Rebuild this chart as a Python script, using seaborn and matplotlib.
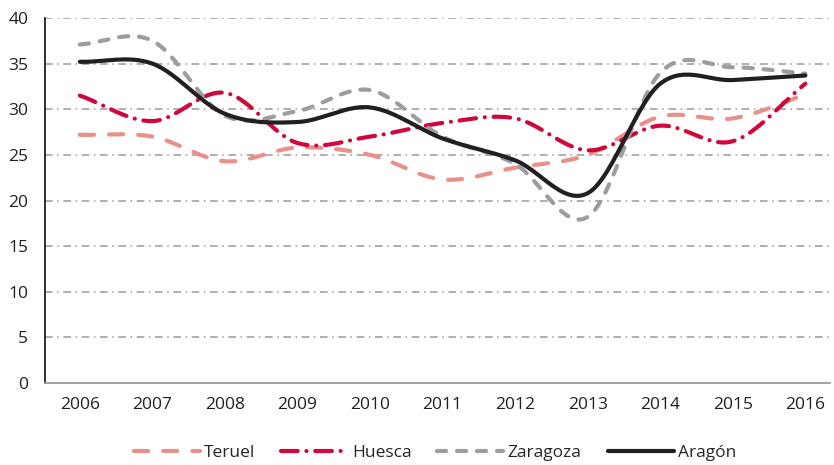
import numpy as np
import pandas as pd
import matplotlib
matplotlib.use("Agg")
import matplotlib.pyplot as plt
import seaborn as sns
from matplotlib.lines import Line2D

years = [2006, 2007, 2008, 2009, 2010, 2011, 2012, 2013, 2014, 2015, 2016]
teruel = [27.2, 27.0, 24.3, 25.8, 25.0, 22.3, 23.6, 25.0, 29.2, 29.0, 31.6]
huesca = [31.5, 28.7, 31.8, 26.3, 27.0, 28.5, 29.0, 25.5, 28.2, 26.5, 32.8]
zaragoza = [37.1, 37.5, 29.3, 29.8, 32.1, 27.0, 24.0, 18.2, 34.0, 34.6, 33.9]
aragon = [35.2, 35.0, 29.5, 28.6, 30.2, 26.8, 24.4, 20.8, 32.8, 33.2, 33.7]
series_names = ["Teruel", "Huesca", "Zaragoza", "Aragón"]
y_ticks = [0, 5, 10, 15, 20, 25, 30, 35, 40]

sns.set_theme(style="white")
plt.rcParams["font.family"] = ["Open Sans", "DejaVu Sans"]


def catmull_rom(x, y, n=30):
    x = np.asarray(x, float)
    y = np.asarray(y, float)
    px = np.concatenate([[2 * x[0] - x[1]], x, [2 * x[-1] - x[-2]]])
    py = np.concatenate([[2 * y[0] - y[1]], y, [2 * y[-1] - y[-2]]])
    xs, ys = [], []
    for i in range(1, len(px) - 2):
        t = np.linspace(0, 1, n, endpoint=(i == len(px) - 3))
        for P, out in ((px, xs), (py, ys)):
            p0, p1, p2, p3 = P[i - 1], P[i], P[i + 1], P[i + 2]
            out.append(0.5 * ((2 * p1) + (-p0 + p2) * t
                              + (2 * p0 - 5 * p1 + 4 * p2 - p3) * t ** 2
                              + (-p0 + 3 * p1 - 3 * p2 + p3) * t ** 3))
    return np.concatenate(xs), np.concatenate(ys)


frames = []
for name, vals in zip(series_names, [teruel, huesca, zaragoza, aragon]):
    sx, sy = catmull_rom(years, vals)
    frames.append(pd.DataFrame({"year": sx, "value": sy, "serie": name}))
df = pd.concat(frames, ignore_index=True)

colors = {"Teruel": "#E8918B", "Huesca": "#D0073D", "Zaragoza": "#9C9DA1", "Aragón": "#231F20"}
dashes = {"Teruel": (3.4, 3.6), "Huesca": (4.0, 2.1, 0.01, 2.1), "Zaragoza": (2.2, 2.6), "Aragón": ""}
LW = 3.0

fig = plt.figure(figsize=(8.34, 4.65), dpi=100)
ax = fig.add_axes([45 / 834, 1 - 383 / 465, (830 - 45) / 834, (383 - 18) / 465])

sns.lineplot(data=df, x="year", y="value", hue="serie", style="serie",
             palette=colors, dashes=dashes, linewidth=LW, sort=False,
             estimator=None, ax=ax, legend=False)
for line in ax.get_lines():
    line.set_dash_capstyle("round")
    line.set_solid_capstyle("round")

ax.set_xlim(2005.52, 2016.34)
ax.set_ylim(0, 40)
ax.set_xticks(years)
ax.set_xticklabels([str(y) for y in years], fontsize=12.5, color="#231F20")
ax.set_yticks(y_ticks)
ax.set_yticklabels([str(t) for t in y_ticks], fontsize=12.5, color="#231F20")
ax.tick_params(axis="x", length=0, pad=10)
ax.tick_params(axis="y", length=0, pad=12)
ax.set_xlabel("")
ax.set_ylabel("")
for t in y_ticks[1:]:
    ax.axhline(t, color="#9A9A9A", linewidth=1.1, linestyle=(0, (5, 3, 1, 3)), zorder=0)
for s in ["top", "right"]:
    ax.spines[s].set_visible(False)
ax.spines["left"].set_color("#231F20")
ax.spines["left"].set_linewidth(1.3)
ax.spines["bottom"].set_color("#9A9A9A")
ax.spines["bottom"].set_linewidth(1.3)

handles = []
for name in series_names:
    d = dashes[name]
    ls = "-" if d == "" else (0, d)
    handles.append(Line2D([], [], color=colors[name], linewidth=LW, linestyle=ls,
                          dash_capstyle="round", solid_capstyle="round"))
fig.legend(handles, series_names, loc="center", bbox_to_anchor=(435 / 834, 1 - 453 / 465),
           ncol=4, frameon=False, fontsize=12.5, handlelength=3.8, columnspacing=1.5,
           handletextpad=0.25, borderaxespad=0)

fig.savefig("out.png", dpi=100)
